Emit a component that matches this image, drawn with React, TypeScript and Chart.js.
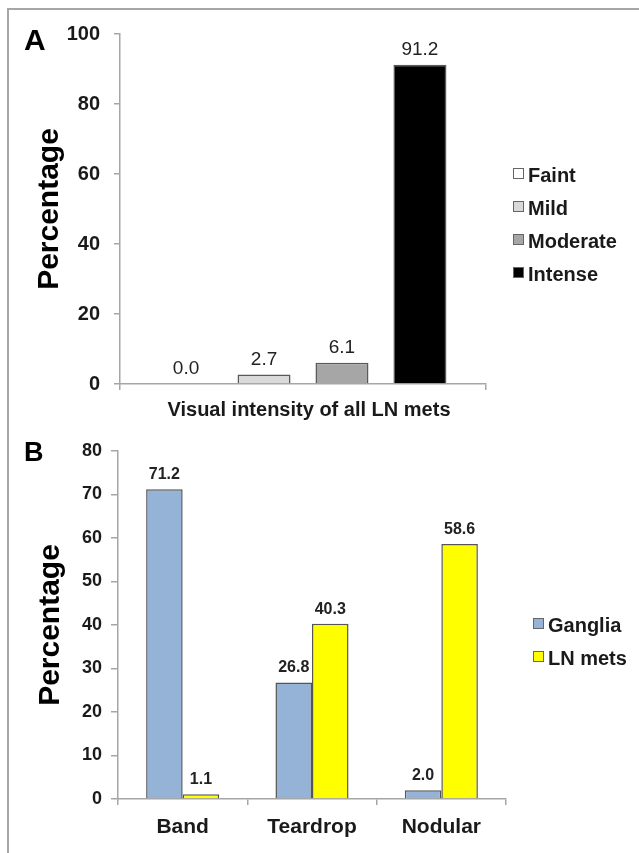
import React, { useEffect, useRef } from "react";
import { Chart, registerables } from "chart.js";

Chart.register(...registerables);

const FONT = "'Liberation Sans', Arial, Helvetica, sans-serif";

// Panel A data
const intensityCategories = ["Visual intensity of all LN mets"];
const intensitySeries = ["Faint", "Mild", "Moderate", "Intense"];
const intensityValues = [0.0, 2.7, 6.1, 91.2];
const intensityColors = ["#ffffff", "#d9d9d9", "#a6a6a6", "#000000"];
const intensityTicks = [0, 20, 40, 60, 80, 100];

// Panel B data
const shapeCategories = ["Band", "Teardrop", "Nodular"];
const shapeSeries = ["Ganglia", "LN mets"];
const gangliaValues = [71.2, 26.8, 2.0];
const lnMetsValues = [1.1, 40.3, 58.6];
const shapeColors = ["#95b3d7", "#ffff00"];
const shapeTicks = [0, 10, 20, 30, 40, 50, 60, 70, 80];

const AXIS = "#a6a6a6";
const TEXT = "#1a1a1a";

const valueLabels = {
  id: "valueLabels",
  afterDatasetsDraw(chart: any, _args: any, opts: any) {
    const ctx = chart.ctx;
    ctx.save();
    ctx.font = opts.font;
    ctx.fillStyle = opts.color;
    ctx.textAlign = "center";
    ctx.textBaseline = "alphabetic";
    chart.data.datasets.forEach((ds: any, i: number) => {
      const meta = chart.getDatasetMeta(i);
      meta.data.forEach((el: any, j: number) => {
        const v = ds.data[j];
        ctx.fillText(Number(v).toFixed(1), el.x, el.y - opts.gap);
      });
    });
    ctx.restore();
  },
};

const sideLegend = {
  id: "sideLegend",
  afterDraw(chart: any, _args: any, opts: any) {
    const ctx = chart.ctx;
    ctx.save();
    chart.data.datasets.forEach((ds: any, i: number) => {
      const y = opts.y + i * opts.step;
      const bx = opts.x;
      const by = y - 14;
      ctx.fillStyle = ds.backgroundColor;
      ctx.fillRect(bx, by, opts.box, opts.box);
      ctx.strokeStyle = "#666";
      ctx.lineWidth = 1;
      ctx.strokeRect(bx + 0.5, by + 0.5, opts.box - 1, opts.box - 1);
      ctx.fillStyle = TEXT;
      ctx.font = opts.font;
      ctx.textAlign = "left";
      ctx.textBaseline = "alphabetic";
      ctx.fillText(ds.label, opts.textX, y);
    });
    ctx.restore();
  },
};

const panelLabel = {
  id: "panelLabel",
  afterDraw(chart: any, _args: any, opts: any) {
    const ctx = chart.ctx;
    ctx.save();
    ctx.font = opts.font;
    ctx.fillStyle = "#000";
    ctx.textAlign = "left";
    ctx.textBaseline = "alphabetic";
    ctx.fillText(opts.text, opts.x, opts.y);
    ctx.restore();
  },
};

function makeOptions(cfg: any) {
  return {
    responsive: false,
    animation: false,
    devicePixelRatio: 1,
    layout: { padding: cfg.padding },
    plugins: {
      legend: { display: false },
      tooltip: { enabled: false },
      valueLabels: cfg.valueLabels,
      sideLegend: cfg.sideLegend,
      panelLabel: cfg.panelLabel,
    },
    scales: {
      x: {
        offset: true,
        grid: {
          display: true,
          drawOnChartArea: false,
          drawTicks: true,
          tickLength: 6,
          color: AXIS,
          lineWidth: 1.5,
        },
        border: { display: true, color: AXIS, width: 1.5 },
        ticks: {
          color: TEXT,
          font: { family: FONT, size: cfg.xFont, weight: "bold" },
          padding: cfg.xPad,
          labelOffset: cfg.xLabelOffset || 0,
          maxRotation: 0,
          autoSkip: false,
        },
        afterFit: (s: any) => {
          s.height = cfg.xHeight;
        },
      },
      y: {
        min: 0,
        max: cfg.yMax,
        afterBuildTicks: (s: any) => {
          s.ticks = cfg.yTicks.map((v: number) => ({ value: v }));
        },
        grid: {
          display: true,
          drawOnChartArea: false,
          drawTicks: true,
          tickLength: cfg.yTickLen,
          color: AXIS,
          lineWidth: 1.5,
        },
        border: { display: true, color: AXIS, width: 1.5 },
        ticks: {
          color: TEXT,
          font: { family: FONT, size: cfg.yFont, weight: "bold" },
          padding: cfg.yPad,
        },
        title: {
          display: true,
          text: "Percentage",
          color: "#000",
          font: { family: FONT, size: 30, weight: "bold" },
          padding: { top: cfg.titlePad, bottom: 0 },
        },
        afterFit: (s: any) => {
          s.width = cfg.yWidth;
        },
      },
    },
  };
}

export default function App() {
  const refA = useRef<HTMLCanvasElement>(null);
  const refB = useRef<HTMLCanvasElement>(null);

  useEffect(() => {
    const chartA = new Chart(refA.current as HTMLCanvasElement, {
      type: "bar",
      data: {
        labels: intensityCategories,
        datasets: intensitySeries.map((name, i) => ({
          label: name,
          data: [intensityValues[i]],
          backgroundColor: intensityColors[i],
          borderColor: "#595959",
          borderWidth: 1.5,
          categoryPercentage: 0.852,
          barPercentage: 0.68,
        })),
      },
      options: makeOptions({
        padding: { left: 0, right: 153, top: 34, bottom: 0 },
        xHeight: 46,
        xFont: 20,
        xPad: 8,
        xLabelOffset: 6,
        yMax: 100,
        yTicks: intensityTicks,
        yTickLen: 6,
        yFont: 20,
        yPad: 14,
        yWidth: 120,
        titlePad: 32,
        valueLabels: { font: `19px ${FONT}`, color: "#222", gap: 10 },
        sideLegend: { x: 513, textX: 528, y: 182, step: 33, box: 11, font: `bold 20px ${FONT}` },
        panelLabel: { text: "A", x: 24, y: 50, font: `bold 30px ${FONT}` },
      }) as any,
      plugins: [valueLabels, sideLegend, panelLabel],
    });

    const shapeData = [gangliaValues, lnMetsValues];
    const chartB = new Chart(refB.current as HTMLCanvasElement, {
      type: "bar",
      data: {
        labels: shapeCategories,
        datasets: shapeSeries.map((name, i) => ({
          label: name,
          data: shapeData[i],
          backgroundColor: shapeColors[i],
          borderColor: "#555555",
          borderWidth: 1.5,
          categoryPercentage: 0.565,
          barPercentage: 1.0,
        })),
      },
      options: makeOptions({
        padding: { left: 0, right: 133, top: 21, bottom: 0 },
        xHeight: 54,
        xFont: 21,
        xPad: 10,
        yMax: 80,
        yTicks: shapeTicks,
        yTickLen: 7,
        yFont: 18,
        yPad: 9,
        yWidth: 118,
        titlePad: 33,
        valueLabels: { font: `bold 16px ${FONT}`, color: "#222", gap: 10 },
        sideLegend: { x: 533, textX: 548, y: 202, step: 33, box: 11, font: `bold 20px ${FONT}` },
        panelLabel: { text: "B", x: 24, y: 31, font: `bold 27px ${FONT}` },
      }) as any,
      plugins: [valueLabels, sideLegend, panelLabel],
    });

    return () => {
      chartA.destroy();
      chartB.destroy();
    };
  }, []);

  return (
    <div style={{ position: "absolute", left: 0, top: 0, width: 639, height: 853, background: "#fff", overflow: "hidden" }}>
      <canvas ref={refA} width={639} height={430} style={{ position: "absolute", left: 0, top: 0 }} />
      <canvas ref={refB} width={639} height={423} style={{ position: "absolute", left: 0, top: 430 }} />
      <div style={{ position: "absolute", left: 7, top: 8, width: 632, height: 2, background: "#a6a6a6" }} />
      <div style={{ position: "absolute", left: 7, top: 8, width: 2, height: 845, background: "#a6a6a6" }} />
    </div>
  );
}
